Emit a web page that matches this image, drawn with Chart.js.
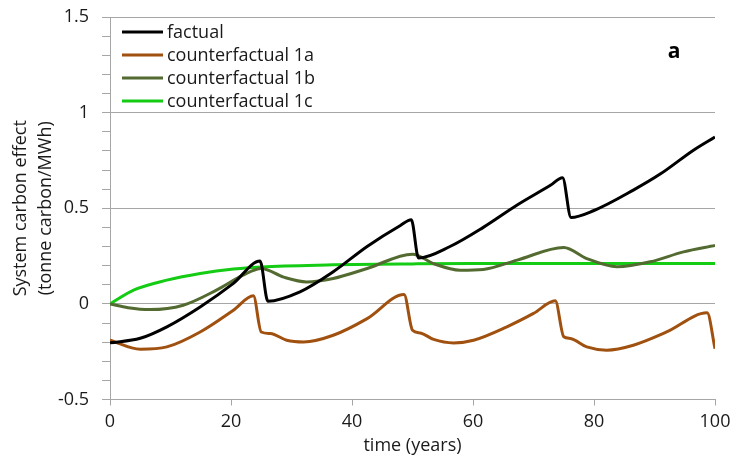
<!DOCTYPE html>
<html lang="en">
<head>
<meta charset="UTF-8">
<title>System carbon effect</title>
<style>
  body { margin: 0; background: #fff; }
  .chart { position: relative; width: 731px; height: 463px; }
</style>
</head>
<body>
<div class="chart"><canvas id="myChart"></canvas></div>
<script src="https://cdn.jsdelivr.net/npm/chart.js@4.4.0/dist/chart.umd.min.js"></script>
<script>
const seriesNames = ["factual", "counterfactual 1a", "counterfactual 1b", "counterfactual 1c"];

const factualX = [0, 5, 9.4, 14.9, 20.4, 24.8, 26.1, 31.4, 36.9, 42.5, 48, 49.8, 51, 56.2, 61.7, 67.3, 72.8, 74.8, 76.2, 79.9, 86.5, 91, 96.5, 100];
const factualY = [-0.204, -0.18, -0.12, -0.016, 0.107, 0.224, 0.014, 0.063, 0.168, 0.30, 0.41, 0.44, 0.24, 0.30, 0.40, 0.517, 0.62, 0.66, 0.452, 0.487, 0.595, 0.68, 0.805, 0.873];

const cf1aX = [0, 5, 9.4, 14.9, 20.4, 23.7, 25, 26.5, 29.2, 32, 36.9, 42.5, 48.6, 50, 51.3, 53.5, 56.8, 60.1, 65.6, 70, 73.6, 75, 76.1, 78.8, 82.1, 86.5, 92, 98.7, 100];
const cf1aY = [-0.19, -0.237, -0.225, -0.147, -0.033, 0.042, -0.147, -0.155, -0.19, -0.199, -0.164, -0.077, 0.049, -0.138, -0.152, -0.186, -0.204, -0.19, -0.12, -0.05, 0.016, -0.172, -0.181, -0.225, -0.242, -0.216, -0.147, -0.047, -0.234];

const cf1bX = [0, 3, 6.6, 12.1, 17.6, 22, 25, 28.7, 32.5, 36.9, 42.5, 50, 53.5, 57.9, 61.7, 67.3, 75, 78.8, 83.8, 89.3, 94.8, 100];
const cf1bY = [0, -0.02, -0.03, -0.007, 0.072, 0.15, 0.185, 0.14, 0.115, 0.133, 0.185, 0.26, 0.21, 0.176, 0.18, 0.229, 0.295, 0.237, 0.194, 0.22, 0.272, 0.305];

const cf1cX = [0, 3.9, 9.4, 14.9, 20.4, 25.9, 36.9, 50, 60, 80, 100];
const cf1cY = [0, 0.072, 0.124, 0.159, 0.182, 0.194, 0.204, 0.209, 0.211, 0.211, 0.211];

const colors = ["#000000", "#a0500f", "#536b30", "#14cc14"];

const xTicks = [0, 20, 40, 60, 80, 100];
const yTickLabels = ["-0.5", "0", "0.5", "1", "1.5"];

const FONT = "'Open Sans', Lato, sans-serif";
const FSIZE = 18;
const TEXT = "#1a1a1a";
const GRID = "#a6a6a6";

function pts(xs, ys) {
    return xs.map((x, i) => ({ x: x, y: ys[i] }));
}

const isMajor = (v) => Math.abs(v * 2 - Math.round(v * 2)) < 1e-6;

// legend drawn inside the plot, plus the panel letter
const insideLegend = {
    id: "insideLegend",
    afterDatasetsDraw(chart) {
        const { ctx, chartArea } = chart;
        ctx.save();
        ctx.font = FSIZE + "px " + FONT;
        ctx.textBaseline = "middle";
        chart.data.datasets.forEach((ds, i) => {
            const y = chartArea.top + 15 + i * 23;
            ctx.strokeStyle = ds.borderColor;
            ctx.lineWidth = 3;
            ctx.beginPath();
            ctx.moveTo(chartArea.left + 12, y);
            ctx.lineTo(chartArea.left + 53, y);
            ctx.stroke();
            ctx.fillStyle = TEXT;
            ctx.fillText(ds.label, chartArea.left + 57, y + 1);
        });
        ctx.font = "bold 21px " + FONT;
        ctx.textAlign = "center";
        ctx.fillStyle = "#000";
        ctx.fillText("a", chartArea.right - 41, chartArea.top + 35);
        ctx.restore();
    }
};

const data = {
    datasets: [
        { label: seriesNames[0], data: pts(factualX, factualY), borderColor: colors[0] },
        { label: seriesNames[1], data: pts(cf1aX, cf1aY), borderColor: colors[1] },
        { label: seriesNames[2], data: pts(cf1bX, cf1bY), borderColor: colors[2] },
        { label: seriesNames[3], data: pts(cf1cX, cf1cY), borderColor: colors[3] }
    ].map(ds => Object.assign(ds, {
        borderWidth: 3,
        pointRadius: 0,
        fill: false,
        cubicInterpolationMode: "monotone"
    }))
};

const config = {
    type: "line",
    data: data,
    plugins: [insideLegend],
    options: {
        responsive: true,
        maintainAspectRatio: false,
        animation: false,
        devicePixelRatio: 1,
        layout: { padding: { left: 9, right: 16, top: 17, bottom: 6 } },
        plugins: { legend: { display: false }, tooltip: { enabled: false } },
        scales: {
            x: {
                type: "linear",
                min: 0,
                max: 100,
                afterBuildTicks: (scale) => { scale.ticks = xTicks.map(v => ({ value: v })); },
                afterFit: (scale) => {
                    scale.height = 57.5;
                    scale.paddingLeft = 0;
                    scale.paddingRight = 0;
                },
                ticks: { color: TEXT, font: { family: FONT, size: FSIZE }, padding: 6, maxRotation: 0 },
                grid: { drawOnChartArea: false, tickLength: 6, tickColor: GRID, color: GRID },
                border: { color: GRID, width: 1 },
                title: { display: true, text: "time (years)", color: TEXT, font: { family: FONT, size: FSIZE }, padding: 0 }
            },
            y: {
                min: -0.5,
                max: 1.5,
                afterFit: (scale) => {
                    scale.width = 101;
                    scale.paddingTop = 0;
                    scale.paddingBottom = 0;
                },
                ticks: {
                    stepSize: 0.1,
                    autoSkip: false,
                    color: TEXT,
                    font: { family: FONT, size: FSIZE },
                    padding: 13,
                    callback: (v) => isMajor(v) ? yTickLabels[Math.round((v + 0.5) * 2)] : ""
                },
                grid: {
                    tickLength: 8,
                    tickColor: GRID,
                    color: (c) => isMajor(c.tick.value) ? GRID : "rgba(0,0,0,0)"
                },
                border: { color: GRID, width: 1 },
                title: {
                    display: true,
                    text: ["System carbon effect", "(tonne carbon/MWh)"],
                    color: TEXT,
                    font: { family: FONT, size: FSIZE, lineHeight: 1.35 },
                    padding: 0
                }
            }
        }
    }
};

const myChart = new Chart(document.getElementById("myChart"), config);
</script>
</body>
</html>
